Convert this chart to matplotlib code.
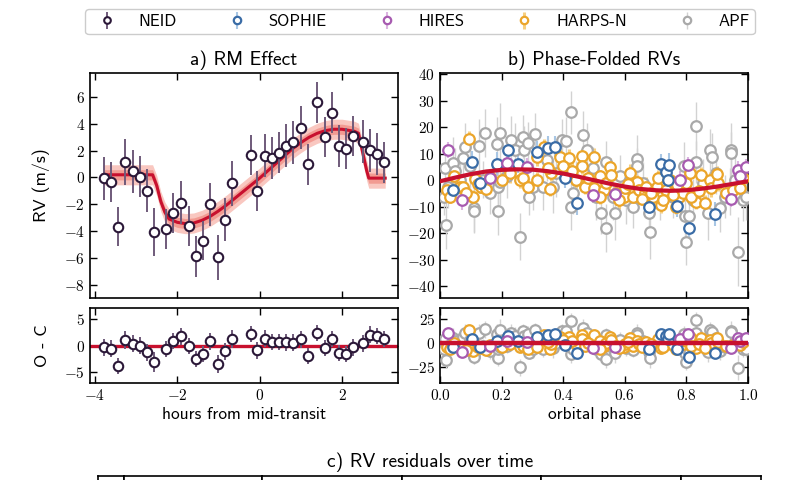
import numpy as np
import matplotlib
matplotlib.use('Agg')
import matplotlib.pyplot as plt
from matplotlib.ticker import FuncFormatter

plt.rcParams['font.family'] = 'cmss10'
plt.rcParams['mathtext.fontset'] = 'cm'
plt.rcParams['axes.unicode_minus'] = False

# ---- a) RM effect (NEID) ----
neid_t = [-3.78, -3.60, -3.43, -3.26, -3.08, -2.90, -2.73, -2.56, -2.28, -2.11,
          -1.90, -1.72, -1.55, -1.37, -1.20, -1.01, -0.84, -0.67, -0.22, -0.06,
          0.12, 0.29, 0.47, 0.65, 0.82, 1.00, 1.17, 1.40, 1.58, 1.75,
          1.92, 2.10, 2.27, 2.51, 2.68, 2.85, 3.03]
neid_rv = [-0.07, -0.32, -3.68, 1.17, 0.45, 0.07, -1.00, -4.05, -3.85, -2.66,
           -1.87, -3.60, -5.90, -4.72, -2.00, -5.97, -3.16, -0.45, 1.67, -1.02,
           1.62, 1.44, 1.86, 2.36, 2.63, 3.73, 0.97, 5.60, 3.03, 4.85,
           2.36, 2.16, 3.10, 2.66, 2.04, 1.77, 1.12]
neid_err = [1.6, 1.5, 1.45, 1.7, 1.6, 1.55, 1.6, 1.8, 1.5, 1.5,
            1.6, 1.5, 1.5, 1.45, 1.6, 1.65, 1.6, 1.7, 1.5, 1.5,
            1.6, 1.55, 1.5, 1.6, 1.6, 1.6, 1.5, 1.5, 1.5, 1.5,
            1.55, 1.5, 1.5, 1.6, 1.6, 1.55, 1.5]
neid_res = [-0.30, -0.56, -3.85, 1.00, 0.30, 0.00, -1.24, -3.10, -0.60, 0.80,
            1.74, -0.12, -2.55, -1.60, 0.80, -3.50, -1.10, 1.24, 2.17, -0.93,
            1.24, 0.62, 0.60, 0.60, 0.50, 1.18, -1.90, 2.30, -0.50, 1.20,
            -1.37, -1.50, -0.37, 0.43, 2.00, 1.80, 1.18]

rm_t = [-3.80, -2.60, -2.50, -2.40, -2.30, -2.20, -2.00, -1.80, -1.60, -1.40,
        -1.20, -1.00, -0.80, -0.60, -0.40, -0.20, 0.00, 0.20, 0.40, 0.60,
        0.80, 1.00, 1.20, 1.40, 1.60, 1.80, 2.00, 2.20, 2.30, 2.40,
        2.50, 2.60, 2.65, 3.05]
rm_rv = [0.20, 0.20, -0.60, -1.80, -2.60, -3.10, -3.35, -3.45, -3.40, -3.20,
         -2.90, -2.50, -2.05, -1.55, -1.05, -0.55, -0.05, 0.50, 1.05, 1.60,
         2.15, 2.60, 3.00, 3.30, 3.50, 3.60, 3.60, 3.50, 3.45, 3.30,
         1.90, 0.50, -0.05, -0.05]

# ---- b) phase-folded RVs ----
orb_phase = [0.00, 0.05, 0.10, 0.15, 0.20, 0.25, 0.30, 0.35, 0.40, 0.45, 0.50,
             0.55, 0.60, 0.65, 0.70, 0.75, 0.80, 0.85, 0.90, 0.95, 1.00]
orb_rv = [-0.4, 1.0, 2.3, 3.3, 3.9, 4.1, 4.0, 3.4, 2.5, 1.3, 0.0,
          -1.3, -2.4, -3.3, -3.8, -4.0, -3.8, -3.2, -2.4, -1.4, -0.4]

apf_phase = [0.016, 0.02, 0.014, 0.027, 0.043, 0.05, 0.065, 0.076, 0.08, 0.097,
             0.11, 0.11, 0.126, 0.14, 0.146, 0.162, 0.184, 0.187, 0.187, 0.195,
             0.195, 0.216, 0.232, 0.243, 0.26, 0.268, 0.272, 0.286, 0.289, 0.303,
             0.31, 0.335, 0.346, 0.368, 0.378, 0.395, 0.409, 0.425, 0.425, 0.432,
             0.443, 0.463, 0.476, 0.497, 0.508, 0.524, 0.538, 0.54, 0.562, 0.568,
             0.584, 0.605, 0.627, 0.64, 0.64, 0.659, 0.679, 0.681, 0.714, 0.757,
             0.791, 0.795, 0.8, 0.809, 0.822, 0.832, 0.832, 0.854, 0.87, 0.876,
             0.884, 0.897, 0.908, 0.924, 0.94, 0.946, 0.946, 0.957, 0.968, 0.984,
             0.995]
apf_rv = [4.5, -17.1, -6.2, -2.4, 6.4, 3.3, 0.1, 8.3, 12.7, 5.2,
          -10.6, -11.8, 13.0, 0.1, 17.8, -4.9, 13.7, -11.8, -2.4, 18.0,
          -0.5, 1.4, 15.2, 11.5, -21.3, 16.5, 11.5, 14.0, -6.2, -2.4,
          17.4, -2.4, 7.7, -2.4, 2.6, 15.2, 15.0, 25.6, -10.0, -4.9,
          0.1, 17.1, 11.5, 4.5, -6.2, -12.5, -18.1, 7.0, -6.2, -12.5,
          1.4, -7.4, -10.0, 7.9, 5.2, -1.1, -12.5, -19.6, -6.2, -6.2,
          5.4, -13.7, -23.2, -13.7, -7.4, 20.5, 7.0, -1.1, -12.5, 11.5,
          8.7, 2.6, -10.6, -6.2, -4.3, 11.5, 10.2, 0.1, -27.0, -7.4,
          -6.2]
apf_err = [8, 9, 7, 8, 10, 9, 8, 7, 9, 8,
           9, 8, 10, 7, 9, 8, 10, 9, 8, 11,
           9, 8, 9, 10, 9, 8, 9, 8, 7, 9,
           8, 9, 8, 10, 9, 8, 9, 8, 9, 8,
           7, 9, 10, 8, 9, 8, 9, 8, 9, 10,
           8, 9, 8, 9, 7, 8, 9, 10, 9, 8,
           9, 8, 9, 10, 8, 9, 8, 9, 10, 8,
           9, 8, 9, 8, 9, 10, 8, 9, 13, 8,
           9]

harps_phase = [0.022, 0.032, 0.065, 0.076, 0.094, 0.108, 0.114, 0.124, 0.133, 0.162,
               0.2, 0.227, 0.26, 0.27, 0.286, 0.314, 0.316, 0.337, 0.357, 0.362,
               0.389, 0.419, 0.443, 0.461, 0.461, 0.47, 0.5, 0.5, 0.519, 0.532,
               0.54, 0.551, 0.554, 0.573, 0.597, 0.6, 0.616, 0.627, 0.638, 0.646,
               0.665, 0.67, 0.692, 0.703, 0.708, 0.719, 0.735, 0.746, 0.765, 0.776,
               0.789, 0.8, 0.811, 0.83, 0.849, 0.876, 0.881, 0.903, 0.93, 0.951,
               0.973, 0.58, 0.61, 0.655, 0.685, 0.725, 0.755, 0.77, 0.815, 0.84,
               0.86, 0.045, 0.085, 0.15, 0.35, 0.40, 0.43, 0.48, 0.52, 0.90,
               0.985]
harps_rv = [-3.7, -6.2, -2.4, -2.4, 15.5, -6.2, 0.4, -1.4, -2.4, 1.1,
            0.1, 2.6, 0.1, 0.8, -2.4, 0.1, 8.7, 12.5, -3.4, 2.6,
            8.9, 8.3, 0.1, 9.2, 5.4, -2.4, 8.7, -3.0, 1.4, -3.7,
            -1.1, 4.9, 2.0, -4.9, -6.2, -3.0, 2.6, -6.2, -0.5, -3.7,
            -4.9, -2.4, -6.2, -2.4, 0.8, -9.3, -3.7, 0.1, -10.2, -6.2,
            -4.9, -1.1, 2.9, -8.4, 2.0, 0.1, -3.0, -1.1, -4.9, -3.7,
            -3.0, -7.5, -1.5, -7.0, -5.0, -7.5, -5.5, -2.0, -6.5, -4.0,
            -8.5, 1.5, -5.0, -3.5, 4.5, 5.5, 3.5, 1.0, -6.5, 2.5,
            1.0]
harps_err = [3, 2.5, 3, 3.5, 3, 2.5, 3, 3, 2.5, 3,
             3, 3.5, 3, 2.5, 3, 3, 3.5, 3, 2.5, 3,
             3, 3.5, 3, 2.5, 3, 3, 3.5, 3, 2.5, 3,
             3, 3.5, 3, 2.5, 3, 3, 3.5, 3, 2.5, 3,
             3, 3.5, 3, 2.5, 3, 3, 3.5, 3, 2.5, 3,
             3, 3.5, 3, 2.5, 3, 3, 3.5, 3, 2.5, 3,
             3, 3.5, 3, 2.5, 3, 3, 3.5, 3, 2.5, 3,
             3, 3.5, 3, 2.5, 3, 3, 3.5, 3, 2.5, 3,
             3]

sophie_phase = [0.103, 0.184, 0.22, 0.253, 0.314, 0.35, 0.373, 0.405, 0.444, 0.68,
                0.718, 0.734, 0.739, 0.745, 0.77, 0.81, 0.894, 0.13, 0.043]
sophie_rv = [7.0, 6.0, 11.4, 6.2, 10.7, 12.2, 12.6, 0.9, -8.5, -10.1,
             6.0, 3.2, 0.1, 5.8, -9.9, -17.9, -12.7, -1.1, -3.7]
sophie_err = [4, 4.5, 4, 3.5, 4, 4.5, 4, 4, 4.5, 4,
              4, 3.5, 4, 4.5, 4, 4, 4.5, 4, 4]

hires_phase = [0.027, 0.07, 0.162, 0.216, 0.281, 0.497, 0.568, 0.778, 0.805, 0.945,
               0.966, 0.973, 0.994]
hires_rv = [11.5, -7.6, 0.9, 6.4, 4.8, -5.5, -5.3, 0.1, 5.8, -7.0,
            3.9, 1.4, 4.9]
hires_err = [3, 3.5, 3, 3, 3.5, 3, 3, 3.5, 3, 3,
             3.5, 3, 3]

red = '#c8102e'
inst = [
    ('APF', apf_phase, apf_rv, apf_err, '#a9a9a9', '#d2d2d2', 1.0),
    ('HARPS-N', harps_phase, harps_rv, harps_err, '#eba52a', '#f6cf80', 2.2),
    ('SOPHIE', sophie_phase, sophie_rv, sophie_err, '#3a6ca6', '#a8c6e4', 1.5),
    ('HIRES', hires_phase, hires_rv, hires_err, '#a75bb0', '#dbb4e0', 1.5),
]

fig = plt.figure(figsize=(8, 4.8), dpi=100)


def px_axes(left, top, right, bottom):
    return fig.add_axes([left / 800, 1 - bottom / 480,
                         (right - left) / 800, (bottom - top) / 480])


def style(ax, xfmt='{:g}'):
    ax.tick_params(direction='in', top=True, right=True, length=5, width=1,
                   labelsize=11)
    for s in ax.spines.values():
        s.set_linewidth(1.2)
    ax.xaxis.set_major_formatter(FuncFormatter(lambda v, p: '$' + xfmt.format(v + 0.0) + '$'))
    ax.yaxis.set_major_formatter(FuncFormatter(lambda v, p: '$' + '{:g}'.format(v + 0.0) + '$'))


ax_a = px_axes(90, 73, 398, 298)
ax_ar = px_axes(90, 308, 398, 383)
ax_b = px_axes(440, 73, 748, 298)
ax_br = px_axes(440, 308, 748, 383)

# panel a
rm_t_a = np.array(rm_t)
rm_rv_a = np.array(rm_rv)
ax_a.fill_between(rm_t_a, rm_rv_a - 0.75, rm_rv_a + 0.75, color='#f9c7c0', lw=0, zorder=1)
ax_a.fill_between(rm_t_a, rm_rv_a - 0.38, rm_rv_a + 0.38, color='#f29b92', lw=0, zorder=1)
ax_a.plot(rm_t_a, rm_rv_a, color=red, lw=2.2, zorder=2)
h_neid = ax_a.errorbar(neid_t, neid_rv, yerr=neid_err, fmt='o', ms=6.8, mfc='white',
                       mec='#2b1838', mew=1.5, ecolor='#6f5a7a', elinewidth=1.4,
                       capsize=0, zorder=3)
ax_a.set_xlim(-4.12, 3.36)
ax_a.set_ylim(-9, 7.8)
ax_a.set_yticks([-8, -6, -4, -2, 0, 2, 4, 6])
ax_a.set_xticks([-4, -2, 0, 2])
style(ax_a)
ax_a.tick_params(labelbottom=False)
ax_a.set_ylabel('RV (m/s)', fontsize=13)
ax_a.yaxis.set_label_coords(-0.13, 0.5)
ax_a.set_title('a) RM Effect', fontsize=14, pad=6)

ax_ar.axhline(0, color=red, lw=2.4, zorder=2)
ax_ar.errorbar(neid_t, neid_res, yerr=neid_err, fmt='o', ms=6.8, mfc='white',
               mec='#2b1838', mew=1.5, ecolor='#6f5a7a', elinewidth=1.4,
               capsize=0, zorder=3)
ax_ar.set_xlim(-4.12, 3.36)
ax_ar.set_ylim(-7, 7)
ax_ar.set_yticks([-5, 0, 5])
ax_ar.set_xticks([-4, -2, 0, 2])
style(ax_ar)
ax_ar.set_ylabel('O - C', fontsize=13)
ax_ar.yaxis.set_label_coords(-0.13, 0.5)
ax_ar.set_xlabel('hours from mid-transit', fontsize=12.5, labelpad=3)

# panel b
handles = {}
for name, ph, rv, err, c, ec, elw in inst:
    ph = np.array(ph)
    rv = np.array(rv)
    handles[name] = ax_b.errorbar(ph, rv, yerr=err, fmt='o', ms=7.6, mfc='white', mec=c,
                                  mew=1.6, ecolor=ec, elinewidth=elw, capsize=0, zorder=3)
    res = rv - np.interp(ph, orb_phase, orb_rv)
    ax_br.errorbar(ph, res, yerr=err, fmt='o', ms=7.6, mfc='white', mec=c,
                   mew=1.6, ecolor=ec, elinewidth=elw, capsize=0, zorder=3)
ax_b.plot(orb_phase, orb_rv, color=red, lw=3, zorder=5)
ax_b.set_xlim(0, 1)
ax_b.set_ylim(-44.5, 40.5)
ax_b.set_yticks(np.arange(-40, 41, 10))
ax_b.set_xticks([0, 0.2, 0.4, 0.6, 0.8, 1.0])
style(ax_b, '{:.1f}')
ax_b.tick_params(labelbottom=False)
ax_b.set_title('b) Phase-Folded RVs', fontsize=14, pad=6)

ax_br.axhline(0, color=red, lw=3.2, zorder=5)
ax_br.set_xlim(0, 1)
ax_br.set_ylim(-42, 37)
ax_br.set_yticks([-25, 0, 25])
ax_br.set_xticks([0, 0.2, 0.4, 0.6, 0.8, 1.0])
style(ax_br, '{:.1f}')
ax_br.set_xlabel('orbital phase', fontsize=12.5, labelpad=3)

# panel c (cut off at bottom of figure)
edges = [98, 124, 262, 402, 541, 681, 761]
for l, r in zip(edges[:-1], edges[1:]):
    ax_c = px_axes(l, 476, r, 620)
    ax_c.set_xticks([])
    ax_c.set_yticks([])
    for s in ax_c.spines.values():
        s.set_linewidth(1.2)
fig.text(430 / 800, 1 - 462 / 480, 'c) RV residuals over time', fontsize=14,
         ha='center', va='center')

order = ['SOPHIE', 'HIRES', 'HARPS-N', 'APF']
fig.legend([h_neid] + [handles[n] for n in order], ['NEID'] + order,
           loc='upper center', bbox_to_anchor=(420 / 800, 1 - 1 / 480), ncol=5,
           fontsize=12, frameon=True, fancybox=True, framealpha=1,
           edgecolor='#cccccc', columnspacing=2.6, handletextpad=0.9,
           borderpad=0.3, markerscale=0.7)

fig.savefig('out.png', dpi=100)
